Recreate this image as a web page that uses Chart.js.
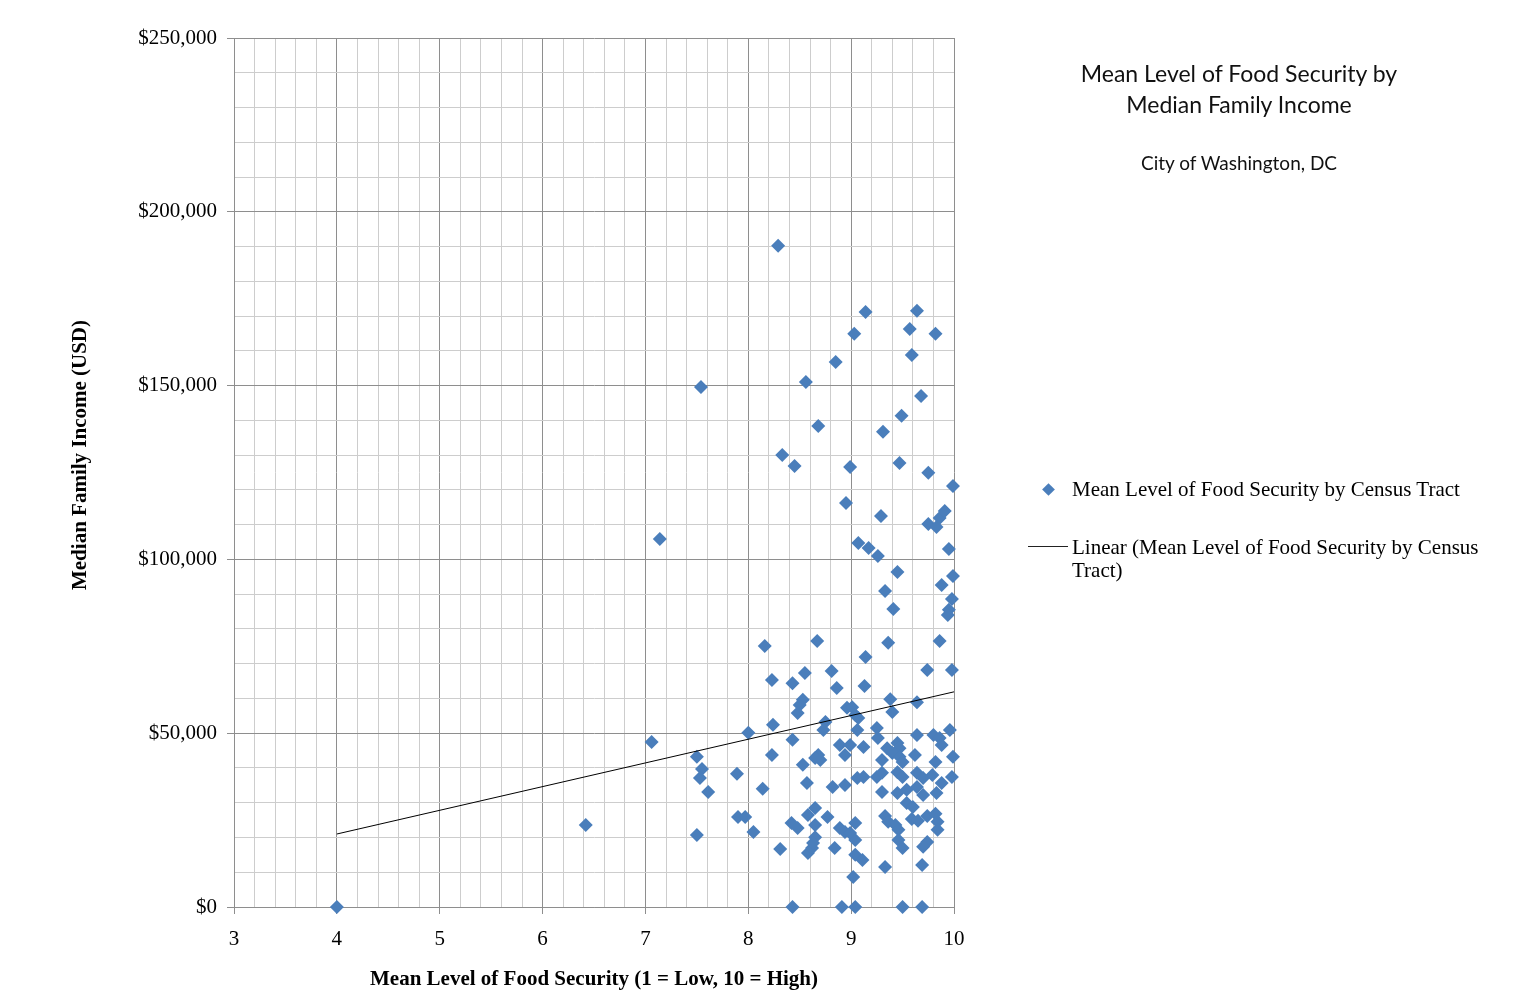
<!DOCTYPE html>
<html>
<head>
<meta charset="utf-8">
<script src="https://cdn.jsdelivr.net/npm/chart.js@4.4.0/dist/chart.umd.min.js"></script>
<style>
  body { margin: 0; background: #fff; }
  #wrap { position: relative; width: 1529px; height: 992px; }
  #titulo { position: absolute; left: 1039px; top: 58px; width: 400px; text-align: center;
            font-family: Lato, 'Open Sans', sans-serif; color: #111; font-size: 23px; line-height: 31px; }
  #subtitulo { position: absolute; left: 1039px; top: 151px; width: 400px; text-align: center;
            font-family: Lato, 'Open Sans', sans-serif; color: #111; font-size: 19px; line-height: 24px; }
  .item { position: absolute; left: 1072px; width: 420px; font-family: 'Liberation Serif', 'Times New Roman', serif;
          font-size: 21px; line-height: 23px; color: #000; }
  .rombo { position: absolute; width: 9px; height: 9px; background: #4a7ebb; transform: rotate(45deg); }
  .raya { position: absolute; height: 0; border-top: 1px solid #222; }
</style>
</head>
<body>
<div id="wrap">
  <canvas id="grafica" width="1529" height="992"></canvas>
  <div id="titulo">Mean Level of Food Security by<br>Median Family Income</div>
  <div id="subtitulo">City of Washington, DC</div>
  <div id="leyenda"></div>
</div>
<script>
// nivel medio de seguridad alimentaria por tracto censal (eje x)
const seguridad = [
  4.00, 6.42, 7.06, 7.14, 7.54, 8.29, 7.50, 7.55, 7.53, 7.61,
  7.89, 7.90, 7.97, 8.05, 7.50, 8.00, 8.14, 8.16, 8.23, 8.24,
  8.23, 8.31, 8.33, 8.45, 8.43, 8.43, 8.42, 8.48, 8.43, 8.56,
  8.55, 8.53, 8.50, 8.48, 8.53, 8.57, 8.58, 8.58, 8.62, 8.68,
  8.67, 8.68, 8.65, 8.70, 8.65, 8.65, 8.65, 8.63, 8.75, 8.73,
  8.77, 8.81, 8.85, 8.86, 8.82, 8.84, 8.89, 8.89, 8.94, 8.94,
  8.94, 8.99, 9.04, 9.04, 8.91, 9.04, 8.95, 8.99, 9.03, 8.96,
  9.01, 9.04, 9.07, 9.06, 8.99, 9.12, 9.06, 9.12, 9.04, 9.11,
  9.02, 9.07, 9.14, 9.14, 9.13, 9.17, 9.26, 9.29, 9.31, 9.33,
  9.36, 9.41, 9.45, 9.38, 9.40, 9.25, 9.26, 9.35, 9.45, 9.47,
  9.40, 9.30, 9.47, 9.50, 9.62, 9.82, 9.99, 9.45, 9.50, 9.64,
  9.70, 9.79, 9.88, 9.98, 9.25, 9.30, 9.30, 9.45, 9.54, 9.64,
  9.70, 9.83, 9.54, 9.60, 9.33, 9.36, 9.43, 9.46, 9.59, 9.65,
  9.74, 9.82, 9.84, 9.84, 9.46, 9.50, 9.74, 9.70, 9.33, 9.69,
  9.50, 9.69, 9.47, 9.49, 9.57, 9.64, 9.59, 9.68, 9.64, 9.64,
  9.80, 9.86, 9.88, 9.96, 9.75, 9.75, 9.83, 9.86, 9.91, 9.82,
  9.88, 9.86, 9.74, 9.98, 9.95, 9.99, 9.99, 9.98, 9.95, 9.94
];
// ingreso familiar mediano en USD (eje y), mismo orden
const ingreso = [
  0, 23600, 47500, 105900, 149600, 190200, 43200, 39700, 37100, 33100,
  38300, 25900, 25900, 21600, 20700, 50100, 34000, 75100, 65300, 52400,
  43700, 16700, 130000, 126900, 64400, 48100, 24200, 22700, 0, 151000,
  67300, 59600, 58100, 55800, 40900, 35700, 26500, 15500, 17000, 138400,
  76500, 43700, 42900, 42300, 28500, 23600, 20100, 18400, 53200, 50900,
  25900, 67900, 156800, 63000, 34500, 17000, 46600, 22700, 43700, 35100,
  21600, 21300, 24200, 19300, 0, 0, 116200, 126600, 164900, 57300,
  57500, 55200, 54400, 50900, 46600, 46000, 37100, 37400, 15000, 13500,
  8600, 104700, 171200, 71900, 63600, 103300, 101000, 112500, 136700, 90900,
  76000, 85700, 96400, 59800, 56100, 51500, 48600, 45700, 47200, 45700,
  44300, 42300, 43200, 41700, 43700, 41700, 43200, 38800, 37400, 38600,
  37100, 38000, 35700, 37400, 37400, 38600, 33100, 32800, 33700, 34500,
  32200, 32800, 29900, 28800, 26200, 24500, 23600, 22200, 25300, 24800,
  26200, 26800, 24500, 22200, 19300, 17000, 18700, 17300, 11500, 12100,
  0, 0, 127700, 141300, 166300, 171500, 158800, 147000, 58900, 49500,
  49500, 48600, 46600, 50900, 124900, 110200, 109300, 111900, 113900, 164900,
  92600, 76500, 68200, 68200, 103000, 95200, 121100, 88600, 85500, 84000
];
// extremos de la linea de tendencia
const tendenciaX = [4, 10];
const tendenciaY = [21000, 61900];

const etiquetaPuntos = 'Mean Level of Food Security by Census Tract';
const etiquetaTendencia = 'Linear (Mean Level of Food Security by Census Tract)';
const tituloX = 'Mean Level of Food Security (1 = Low, 10 = High)';
const tituloY = 'Median Family Income (USD)';

const serif = "'Liberation Serif', 'Times New Roman', serif";
const azul = '#4a7ebb';

function esEntero(v) { return Math.abs(v - Math.round(v)) < 1e-6; }
function esMayorY(v) { return Math.abs(v / 50000 - Math.round(v / 50000)) < 1e-6; }

const puntos = seguridad.map((x, i) => ({ x: x, y: ingreso[i] }));
const tendencia = tendenciaX.map((x, i) => ({ x: x, y: tendenciaY[i] }));

// titulo del eje y dibujado a mano, un poco por encima del centro como en el original
const tituloEjeY = {
  id: 'tituloEjeY',
  afterDraw(chart) {
    const c = chart.ctx;
    c.save();
    c.translate(81, 455);
    c.rotate(-Math.PI / 2);
    c.font = 'bold 21px ' + serif;
    c.fillStyle = '#000';
    c.textAlign = 'center';
    c.textBaseline = 'middle';
    c.fillText(tituloY, 0, 0);
    c.restore();
  }
};

const ctx = document.getElementById('grafica').getContext('2d');
const grafico = new Chart(ctx, {
  type: 'scatter',
  data: {
    datasets: [{
      label: etiquetaPuntos,
      data: puntos,
      pointStyle: 'rectRot',
      pointRadius: 7,
      backgroundColor: azul,
      borderColor: azul,
      borderWidth: 0,
      clip: false,
      order: 1
    }, {
      label: etiquetaTendencia,
      type: 'line',
      data: tendencia,
      borderColor: '#000',
      borderWidth: 1,
      pointRadius: 0,
      fill: false,
      order: 0
    }]
  },
  options: {
    responsive: false,
    animation: false,
    devicePixelRatio: 1,
    layout: { padding: { top: 38, right: 575, left: 0, bottom: 0 } },
    plugins: { legend: { display: false }, tooltip: { enabled: false } },
    scales: {
      x: {
        type: 'linear',
        min: 3,
        max: 10,
        afterFit: s => { s.height = 85; },
        ticks: {
          stepSize: 0.2,
          autoSkip: false,
          maxRotation: 0,
          padding: 13,
          color: '#000',
          font: { family: serif, size: 21 },
          callback: v => esEntero(v) ? String(Math.round(v)) : ''
        },
        grid: {
          color: c => esEntero(c.tick.value) ? '#8e8e8e' : '#cdcdcd',
          tickColor: c => esEntero(c.tick.value) ? '#8e8e8e' : 'rgba(0,0,0,0)',
          tickLength: 7
        },
        border: { color: '#8e8e8e' },
        title: {
          display: true,
          text: tituloX,
          color: '#000',
          font: { family: serif, size: 21, weight: 'bold' },
          padding: { top: 0, bottom: 0 }
        }
      },
      y: {
        min: 0,
        max: 250000,
        afterFit: s => { s.width = 234; },
        ticks: {
          stepSize: 10000,
          autoSkip: false,
          padding: 10,
          color: '#000',
          font: { family: serif, size: 21 },
          callback: v => esMayorY(v) ? '$' + Math.round(v).toLocaleString('en-US') : ''
        },
        grid: {
          color: c => esMayorY(c.tick.value) ? '#8e8e8e' : '#cdcdcd',
          tickColor: c => esMayorY(c.tick.value) ? '#8e8e8e' : 'rgba(0,0,0,0)',
          tickLength: 7
        },
        border: { color: '#8e8e8e' }
      }
    }
  },
  plugins: [tituloEjeY]
});

// leyenda hecha a mano a la derecha, a partir de los datasets
const leyenda = document.getElementById('leyenda');
const filas = [489, 547];
grafico.data.datasets.forEach((ds, i) => {
  const centro = filas[i];
  const item = document.createElement('div');
  item.className = 'item';
  item.style.top = (centro - 11.5) + 'px';
  item.textContent = ds.label;
  leyenda.appendChild(item);

  const marca = document.createElement('div');
  if (ds.pointStyle === 'rectRot') {
    marca.className = 'rombo';
    marca.style.left = (1048 - 4.5) + 'px';
    marca.style.top = (centro - 4.5) + 'px';
  } else {
    marca.className = 'raya';
    marca.style.left = '1028px';
    marca.style.width = '40px';
    marca.style.top = (centro - 1) + 'px';
  }
  leyenda.appendChild(marca);
});
</script>
</body>
</html>
